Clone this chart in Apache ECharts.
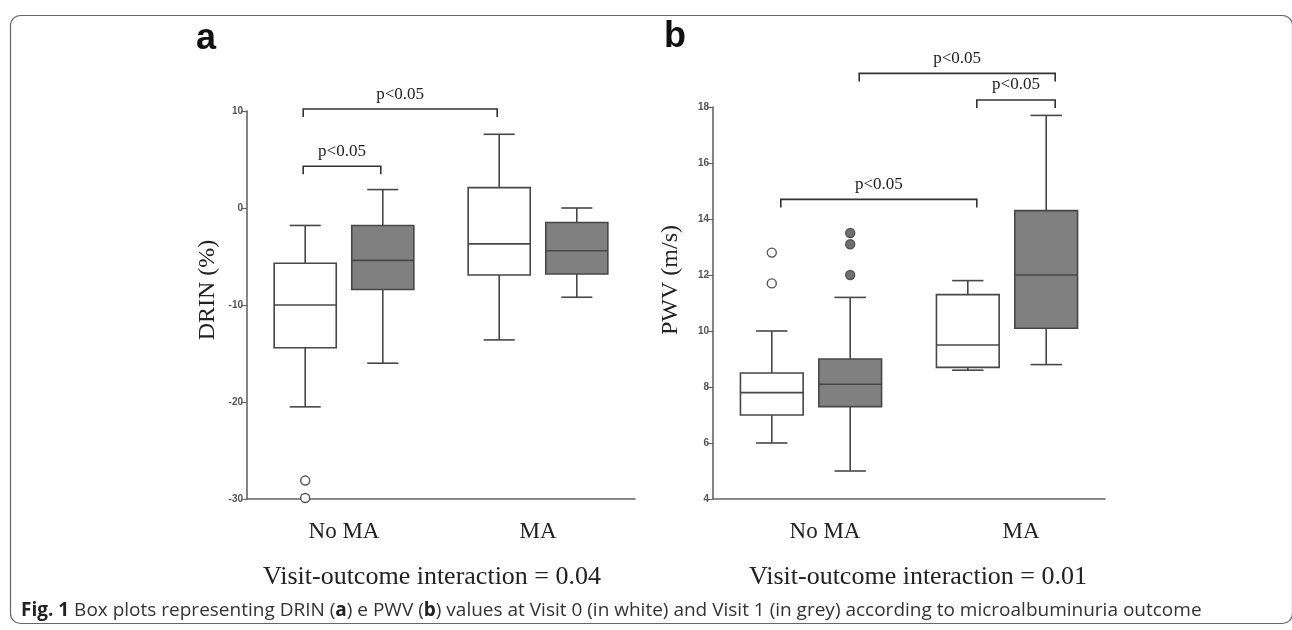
<!DOCTYPE html>
<html>
<head>
<meta charset="utf-8">
<script src="https://cdn.jsdelivr.net/npm/echarts@6/dist/echarts.min.js"></script>
<style>
  html, body { margin: 0; padding: 0; background: #fff; }
  #main { width: 1292px; height: 630px; }
</style>
</head>
<body>
<div id="main"></div>
<script>
// categories of both panels
var categories = ['No MA', 'MA'];

// box rows: [whisker low, Q1, median, Q3, whisker high], one per category
var drinVisit0 = [[-20.5, -14.4, -10.0, -5.7, -1.8], [-13.6, -6.9, -3.7, 2.1, 7.6]];
var drinVisit1 = [[-16.0, -8.4, -5.4, -1.8, 1.9], [-9.2, -6.8, -4.4, -1.5, 0.0]];
var pwvVisit0 = [[6.0, 7.0, 7.8, 8.5, 10.0], [8.6, 8.7, 9.5, 11.3, 11.8]];
var pwvVisit1 = [[5.0, 7.3, 8.1, 9.0, 11.2], [8.8, 10.1, 12.0, 14.3, 17.7]];

// outliers: [category index, value]
var drinOutliers0 = [[0, -28.1], [0, -29.9]];
var drinOutliers1 = [];
var pwvOutliers0 = [[0, 12.8], [0, 11.7]];
var pwvOutliers1 = [[0, 13.5], [0, 13.1], [0, 12.0]];

// significance brackets: [from category, from side, to category, to side, value]
// side -1 = visit 0 (white), +1 = visit 1 (grey)
var drinBrackets = [[0, -1, 1, -1, 10.2], [0, -1, 0, 1, 4.3]];
var pwvBrackets = [[0, 1, 1, 1, 19.2], [1, -1, 1, 1, 18.25], [0, -1, 1, -1, 14.7]];
var bracketText = 'p<0.05';

// y axis ticks
var drinTicks = { min: -30, max: 10, interval: 10 };
var pwvTicks = { min: 4, max: 18, interval: 2 };

var BOX_W = 0.32, BOX_OFF = 0.2;
var lineColor = '#474747';

function withIndex(rows) {
  return rows.map(function (r, i) { return [i].concat(r); });
}

function boxRenderer(side, fill) {
  return function (params, api) {
    var cat = api.value(0);
    var band = api.size([1, 0])[0];
    var w = band * BOX_W;
    var x = api.coord([cat, 0])[0] + side * band * BOX_OFF;
    var yLow = api.coord([cat, api.value(1)])[1];
    var yQ1 = api.coord([cat, api.value(2)])[1];
    var yMed = api.coord([cat, api.value(3)])[1];
    var yQ3 = api.coord([cat, api.value(4)])[1];
    var yHigh = api.coord([cat, api.value(5)])[1];
    var ls = { stroke: lineColor, lineWidth: 1.6 };
    return {
      type: 'group',
      children: [
        { type: 'line', shape: { x1: x, y1: yHigh, x2: x, y2: yQ3 }, style: ls },
        { type: 'line', shape: { x1: x, y1: yQ1, x2: x, y2: yLow }, style: ls },
        { type: 'line', shape: { x1: x - w / 4, y1: yHigh, x2: x + w / 4, y2: yHigh }, style: ls },
        { type: 'line', shape: { x1: x - w / 4, y1: yLow, x2: x + w / 4, y2: yLow }, style: ls },
        { type: 'rect', shape: { x: x - w / 2, y: yQ3, width: w, height: yQ1 - yQ3 },
          style: { fill: fill, stroke: lineColor, lineWidth: 1.6 } },
        { type: 'line', shape: { x1: x - w / 2, y1: yMed, x2: x + w / 2, y2: yMed }, style: ls }
      ]
    };
  };
}

function outlierRenderer(side, fill) {
  return function (params, api) {
    var cat = api.value(0);
    var band = api.size([1, 0])[0];
    var p = api.coord([cat, api.value(1)]);
    return {
      type: 'circle',
      shape: { cx: p[0] + side * band * BOX_OFF, cy: p[1], r: 4.5 },
      style: { fill: fill, stroke: '#555', lineWidth: 1.4 }
    };
  };
}

function bracketRenderer(dx) {
  return function (params, api) {
    var band = api.size([1, 0])[0];
    var v = api.value(4);
    var x1 = api.coord([api.value(0), v])[0] + api.value(1) * band * BOX_OFF + dx;
    var x2 = api.coord([api.value(2), v])[0] + api.value(3) * band * BOX_OFF + dx;
    var y = api.coord([api.value(0), v])[1];
    return {
      type: 'group',
      children: [
        { type: 'polyline', shape: { points: [[x1, y + 8], [x1, y], [x2, y], [x2, y + 8]] },
          style: { stroke: '#333', lineWidth: 1.6, fill: null } },
        { type: 'text', style: { text: bracketText, x: (x1 + x2) / 2, y: y - 15,
          align: 'center', verticalAlign: 'middle', font: '17px "Liberation Serif"', fill: '#222' } }
      ]
    };
  };
}

function panelSeries(idx, v0, v1, o0, o1, brackets, dx) {
  return [
    { type: 'custom', xAxisIndex: idx, yAxisIndex: idx, renderItem: boxRenderer(-1, '#ffffff'),
      encode: { x: 0, y: [1, 2, 3, 4, 5] }, data: withIndex(v0), z: 3 },
    { type: 'custom', xAxisIndex: idx, yAxisIndex: idx, renderItem: boxRenderer(1, '#808080'),
      encode: { x: 0, y: [1, 2, 3, 4, 5] }, data: withIndex(v1), z: 3 },
    { type: 'custom', xAxisIndex: idx, yAxisIndex: idx, renderItem: outlierRenderer(-1, '#ffffff'),
      encode: { x: 0, y: 1 }, data: o0, z: 4 },
    { type: 'custom', xAxisIndex: idx, yAxisIndex: idx, renderItem: outlierRenderer(1, '#707070'),
      encode: { x: 0, y: 1 }, data: o1, z: 4 },
    { type: 'custom', xAxisIndex: idx, yAxisIndex: idx, renderItem: bracketRenderer(dx),
      encode: { x: 0, y: 4 }, data: brackets, clip: false, z: 5 }
  ];
}

function xAxisCfg(idx, pad) {
  return {
    type: 'category', gridIndex: idx, data: categories,
    axisLine: { onZero: false, lineStyle: { color: '#666', width: 1.6 } },
    axisTick: { alignWithLabel: true, length: 4, lineStyle: { color: '#666', width: 1.4 } },
    axisLabel: { margin: 21, fontFamily: 'Liberation Serif', fontSize: 23, color: '#222', padding: pad }
  };
}

function yAxisCfg(idx, t) {
  return {
    type: 'value', gridIndex: idx, min: t.min, max: t.max, interval: t.interval,
    splitLine: { show: false },
    axisLine: { show: true, lineStyle: { color: '#666', width: 1.6 } },
    axisTick: { show: true, length: 6, lineStyle: { color: '#666', width: 1.2 } },
    axisLabel: { margin: 4, fontFamily: 'Liberation Sans', fontSize: 10, fontWeight: 'bold', color: '#555' }
  };
}

var chart = echarts.init(document.getElementById('main'));

var option = {
  animation: false,
  backgroundColor: '#fff',
  grid: [
    { left: 247, width: 388, top: 111, height: 388 },
    { left: 713, width: 392, top: 107, height: 392 }
  ],
  xAxis: [xAxisCfg(0, [0, 0, 0, 0]), xAxisCfg(1, [0, 0, 0, 28])],
  yAxis: [yAxisCfg(0, drinTicks), yAxisCfg(1, pwvTicks)],
  series: [].concat(
    panelSeries(0, drinVisit0, drinVisit1, drinOutliers0, drinOutliers1, drinBrackets, -2),
    panelSeries(1, pwvVisit0, pwvVisit1, pwvOutliers0, pwvOutliers1, pwvBrackets, 9)
  ),
  graphic: [
    { type: 'rect', shape: { x: 10.5, y: 15.5, width: 1282, height: 608, r: 10 },
      style: { fill: null, stroke: '#666', lineWidth: 1.2 }, silent: true },
    { type: 'text', x: 206, y: 39, style: { text: 'a', font: 'bold 36px "Liberation Sans"', fill: '#111',
      align: 'center', verticalAlign: 'middle' } },
    { type: 'text', x: 675, y: 37, style: { text: 'b', font: 'bold 36px "Liberation Sans"', fill: '#111',
      align: 'center', verticalAlign: 'middle' } },
    { type: 'text', x: 208, y: 290, rotation: Math.PI / 2,
      style: { text: 'DRIN (%)', font: '24px "Liberation Serif"', fill: '#222', align: 'center', verticalAlign: 'middle' } },
    { type: 'text', x: 671, y: 280, rotation: Math.PI / 2,
      style: { text: 'PWV (m/s)', font: '24px "Liberation Serif"', fill: '#222', align: 'center', verticalAlign: 'middle' } },
    { type: 'text', x: 432, y: 577,
      style: { text: 'Visit-outcome interaction = 0.04', font: '26px "Liberation Serif"', fill: '#222',
        align: 'center', verticalAlign: 'middle' } },
    { type: 'text', x: 918, y: 577,
      style: { text: 'Visit-outcome interaction = 0.01', font: '26px "Liberation Serif"', fill: '#222',
        align: 'center', verticalAlign: 'middle' } },
    { type: 'text', x: 21, y: 611,
      style: {
        text: '{b|Fig. 1} Box plots representing DRIN ({b|a}) e PWV ({b|b}) values at Visit 0 (in white) and Visit 1 (in grey) according to microalbuminuria outcome',
        font: '19px "Open Sans"', fill: '#333', verticalAlign: 'middle',
        rich: { b: { fontFamily: 'Open Sans', fontSize: 19, fontWeight: 'bold', fill: '#222' } }
      } }
  ]
};

chart.setOption(option);
</script>
</body>
</html>
